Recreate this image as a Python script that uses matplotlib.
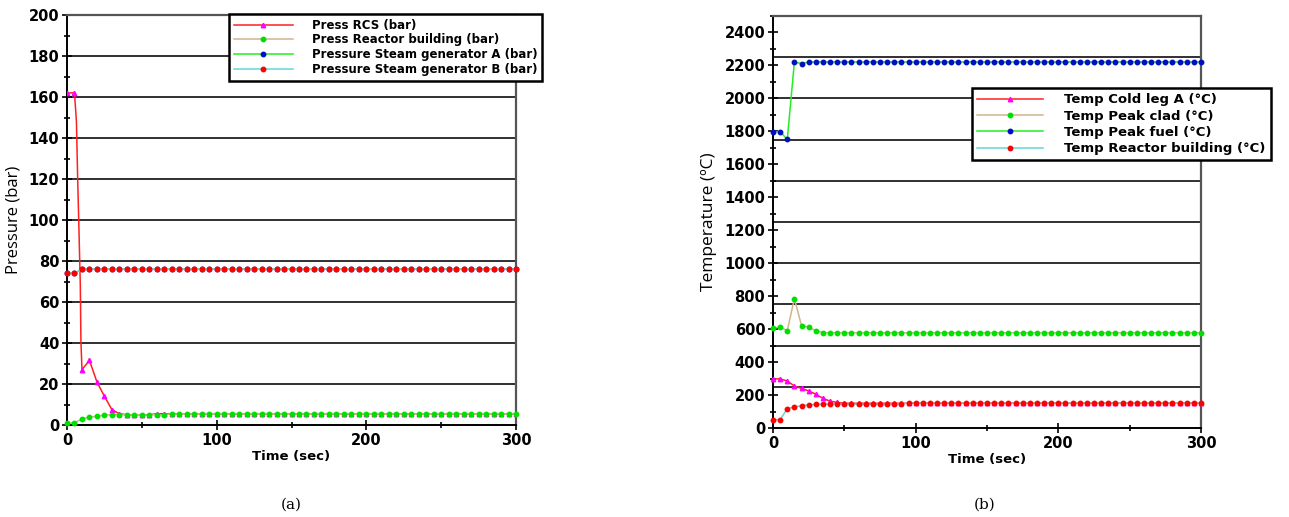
import numpy as np
import matplotlib
matplotlib.use("Agg")
import matplotlib.pyplot as plt
from matplotlib.ticker import MultipleLocator

# time axis, 5 s sampling
time_s = list(range(0, 305, 5))

# (a) pressures, bar
press_rcs = [162, 162, 27, 31.5, 21, 14, 7.5, 5.5, 5, 5, 5, 5, 5.5, 5.5, 5.5, 5.5, 5.5, 5.5, 5.5, 5.5,
             5.5, 5.5, 5.5, 5.5, 5.5, 5.5, 5.5, 5.5, 5.5, 5.5, 5.5, 5.5, 5.5, 5.5, 5.5, 5.5, 5.5, 5.5, 5.5, 5.5,
             5.5, 5.5, 5.5, 5.5, 5.5, 5.5, 5.5, 5.5, 5.5, 5.5, 5.5, 5.5, 5.5, 5.5, 5.5, 5.5, 5.5, 5.5, 5.5, 5.5, 5.5]
# fast depressurisation between 5 s and 10 s
rcs_drop_t = [6.3, 7.1, 8.0, 8.9, 9.3]
rcs_drop_p = [148, 121, 95, 68, 41]
press_building = [1, 1, 3, 3.8, 4.3, 4.8, 5, 5, 5, 5, 5, 5, 5, 5, 5.5, 5.5, 5.5, 5.5, 5.5, 5.5,
                  5.5, 5.5, 5.5, 5.5, 5.5, 5.5, 5.5, 5.5, 5.5, 5.5, 5.5, 5.5, 5.5, 5.5, 5.5, 5.5, 5.5, 5.5, 5.5, 5.5,
                  5.5, 5.5, 5.5, 5.5, 5.5, 5.5, 5.5, 5.5, 5.5, 5.5, 5.5, 5.5, 5.5, 5.5, 5.5, 5.5, 5.5, 5.5, 5.5, 5.5, 5.5]
press_sg_a = [74, 74, 76, 76, 76, 76, 76, 76, 76, 76, 76, 76, 76, 76, 76, 76, 76, 76, 76, 76,
              76, 76, 76, 76, 76, 76, 76, 76, 76, 76, 76, 76, 76, 76, 76, 76, 76, 76, 76, 76,
              76, 76, 76, 76, 76, 76, 76, 76, 76, 76, 76, 76, 76, 76, 76, 76, 76, 76, 76, 76, 76]
press_sg_b = [74, 74, 76, 76, 76, 76, 76, 76, 76, 76, 76, 76, 76, 76, 76, 76, 76, 76, 76, 76,
              76, 76, 76, 76, 76, 76, 76, 76, 76, 76, 76, 76, 76, 76, 76, 76, 76, 76, 76, 76,
              76, 76, 76, 76, 76, 76, 76, 76, 76, 76, 76, 76, 76, 76, 76, 76, 76, 76, 76, 76, 76]

# (b) temperatures, degC
temp_cold_leg = [298, 298, 285, 255, 240, 225, 205, 180, 163, 155, 150, 150, 150, 150, 150, 150, 150, 150, 150, 150,
                 150, 150, 150, 150, 150, 150, 150, 150, 150, 150, 150, 150, 150, 150, 150, 150, 150, 150, 150, 150,
                 150, 150, 150, 150, 150, 150, 150, 150, 150, 150, 150, 150, 150, 150, 150, 150, 150, 150, 150, 150, 150]
temp_peak_clad = [607, 612, 591, 785, 621, 611, 591, 578, 578, 578, 578, 578, 578, 578, 578, 578, 578, 578, 578, 578,
                  578, 578, 578, 578, 578, 578, 578, 578, 578, 578, 578, 578, 578, 578, 578, 578, 578, 578, 578, 578,
                  578, 578, 578, 578, 578, 578, 578, 578, 578, 578, 578, 578, 578, 578, 578, 578, 578, 578, 578, 578, 578]
temp_peak_fuel = [1798, 1798, 1751, 2221, 2211, 2221, 2221, 2221, 2221, 2221, 2221, 2221, 2221, 2221, 2221, 2221, 2221, 2221, 2221, 2221,
                  2221, 2221, 2221, 2221, 2221, 2221, 2221, 2221, 2221, 2221, 2221, 2221, 2221, 2221, 2221, 2221, 2221, 2221, 2221, 2221,
                  2221, 2221, 2221, 2221, 2221, 2221, 2221, 2221, 2221, 2221, 2221, 2221, 2221, 2221, 2221, 2221, 2221, 2221, 2221, 2221, 2221]
temp_building = [50, 50, 118, 127, 135, 140, 143, 144, 145, 145, 145, 145, 145, 145, 145, 145, 146, 146, 147, 150,
                 150, 150, 150, 150, 150, 150, 150, 150, 150, 150, 150, 150, 150, 150, 150, 150, 150, 150, 150, 150,
                 150, 150, 150, 150, 150, 150, 150, 150, 150, 150, 150, 150, 150, 150, 150, 150, 150, 150, 150, 150, 150]

labels_a = ["Press RCS (bar)", "Press Reactor building (bar)",
            "Pressure Steam generator A (bar)", "Pressure Steam generator B (bar)"]
labels_b = ["Temp Cold leg A (°C)", "Temp Peak clad (°C)",
            "Temp Peak fuel (°C)", "Temp Reactor building (°C)"]

line_colors = ["#ff2020", "#d2b48c", "#22ee22", "#60d8d8"]
marker_colors = ["#ff00ff", "#00e000", "#0010c0", "#ff0000"]
markers = ["^", "o", "o", "o"]

W, H = 1289, 517
fig = plt.figure(figsize=(W / 100, H / 100), dpi=100)


def style_axes(ax, ymax, ymajor, yminor, grid_step):
    ax.set_xlim(0, 300)
    ax.set_ylim(0, ymax)
    ax.xaxis.set_major_locator(MultipleLocator(100))
    ax.xaxis.set_minor_locator(MultipleLocator(50))
    ax.yaxis.set_major_locator(MultipleLocator(ymajor))
    ax.yaxis.set_minor_locator(MultipleLocator(yminor))
    ax.tick_params(which="major", direction="inout", length=7, width=1.2, labelsize=10.5, pad=2)
    ax.tick_params(which="minor", direction="inout", length=5, width=1.2)
    for lab in ax.get_xticklabels() + ax.get_yticklabels():
        lab.set_fontweight("bold")
    for g in np.arange(grid_step, ymax + 0.1, grid_step):
        ax.axhline(g, color="#303030", lw=1.4, zorder=1)
    for s in ["left", "bottom"]:
        ax.spines[s].set_color("black")
        ax.spines[s].set_linewidth(1.4)
    for s in ["top", "right"]:
        ax.spines[s].set_color("#555555")
        ax.spines[s].set_linewidth(1.6)
    ax.set_xlabel("Time (sec)", fontsize=9.5, fontweight="bold", labelpad=2)


def draw(ax, series, idx):
    handles = []
    for vals, i in zip(series, idx):
        h, = ax.plot(time_s, vals, color=line_colors[i], lw=1.1, marker=markers[i], markersize=3.2,
                     markerfacecolor=marker_colors[i], markeredgecolor=marker_colors[i],
                     zorder=3, clip_on=False)
        handles.append(h)
    return handles


def add_legend(ax, handles, labels, x, y, size, spacing):
    leg = ax.legend(handles, labels, loc="upper left",
                    bbox_to_anchor=(x / W, 1 - y / H), bbox_transform=fig.transFigure,
                    prop={"weight": "bold", "size": size}, handlelength=5.0, handletextpad=1.6,
                    labelspacing=spacing, borderpad=0.4, borderaxespad=0, fancybox=False,
                    framealpha=1, edgecolor="black")
    leg.get_frame().set_linewidth(1.8)
    leg.set_zorder(5)
    return leg


# ---- (a)
ax1 = fig.add_axes([67 / W, 1 - 425 / H, (516 - 67) / W, (425 - 15) / H])
style_axes(ax1, 200, 20, 10, 20)
all_t = time_s + rcs_drop_t
all_p = press_rcs + rcs_drop_p
order = np.argsort(all_t)
ax1.plot(np.array(all_t)[order], np.array(all_p)[order], color=line_colors[0], lw=1.1, zorder=3)
ax1.plot(time_s, press_rcs, ls="none", marker="^", markersize=3.2,
         color=marker_colors[0], zorder=3)
h_rcs, = ax1.plot([], [], color=line_colors[0], lw=1.1, marker="^", markersize=3.2,
                  markerfacecolor=marker_colors[0], markeredgecolor=marker_colors[0])
hs = draw(ax1, [press_building, press_sg_a, press_sg_b], [1, 2, 3])
ax1.set_ylabel("Pressure (bar)", fontsize=12, family="Open Sans", labelpad=5)
add_legend(ax1, [h_rcs] + hs, labels_a, 229, 14, 8.5, 0.15)

# ---- (b)
ax2 = fig.add_axes([773 / W, 1 - 428 / H, (1201 - 773) / W, (428 - 16) / H])
style_axes(ax2, 2500, 200, 100, 250)
hb = draw(ax2, [temp_cold_leg, temp_peak_clad, temp_peak_fuel, temp_building], [0, 1, 2, 3])
ax2.set_ylabel("Temperature (ºC)", fontsize=12.5, family="Open Sans", labelpad=5)
add_legend(ax2, hb, labels_b, 972, 88, 9.5, 0.25)

fig.text(291 / W, 1 - 505 / H, "(a)", ha="center", va="center", fontsize=11, family="DejaVu Serif")
fig.text(985 / W, 1 - 505 / H, "(b)", ha="center", va="center", fontsize=11, family="DejaVu Serif")

fig.savefig("out.png", dpi=100)
